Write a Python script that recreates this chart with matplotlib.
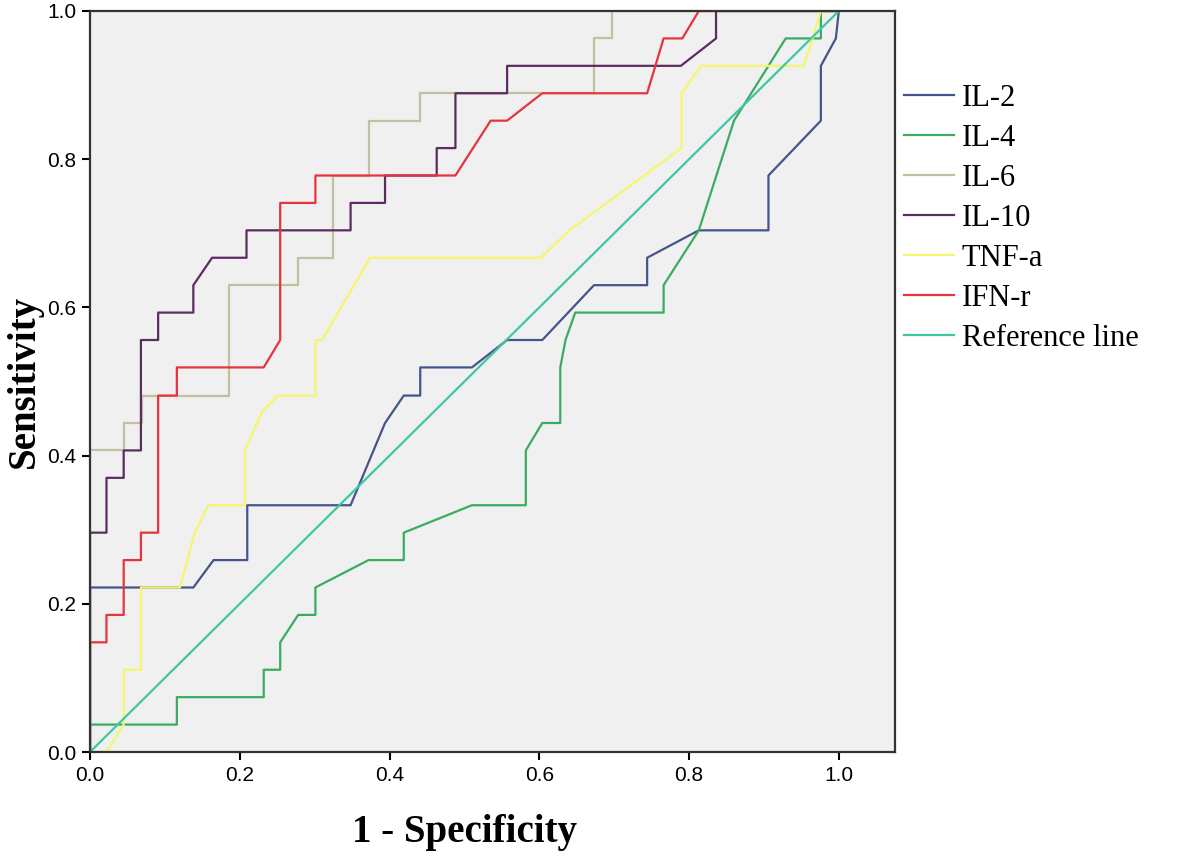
import numpy as np
import matplotlib
matplotlib.use('Agg')
import matplotlib.pyplot as plt

# ROC curves (1 - specificity, sensitivity)
il2_x = [0, 0, 0.138, 0.165, 0.21, 0.21, 0.348, 0.394, 0.419, 0.441, 0.441, 0.51, 0.557, 0.604, 0.673, 0.744, 0.744, 0.813, 0.906, 0.906, 0.976, 0.976, 0.996, 1.0]
il2_y = [0, 0.222, 0.222, 0.259, 0.259, 0.333, 0.333, 0.444, 0.481, 0.481, 0.519, 0.519, 0.556, 0.556, 0.63, 0.63, 0.667, 0.704, 0.704, 0.778, 0.852, 0.926, 0.963, 1.0]

il4_x = [0, 0, 0.116, 0.116, 0.232, 0.232, 0.254, 0.254, 0.278, 0.301, 0.301, 0.372, 0.419, 0.419, 0.51, 0.582, 0.582, 0.604, 0.628, 0.628, 0.635, 0.648, 0.766, 0.766, 0.813, 0.86, 0.929, 0.976, 0.976, 1.0]
il4_y = [0, 0.037, 0.037, 0.074, 0.074, 0.111, 0.111, 0.148, 0.185, 0.185, 0.222, 0.259, 0.259, 0.296, 0.333, 0.333, 0.407, 0.444, 0.444, 0.519, 0.556, 0.593, 0.593, 0.63, 0.704, 0.852, 0.963, 0.963, 1.0, 1.0]

il6_x = [0, 0, 0.045, 0.045, 0.07, 0.07, 0.186, 0.186, 0.278, 0.278, 0.325, 0.325, 0.372, 0.372, 0.441, 0.441, 0.673, 0.673, 0.697, 0.697, 1.0]
il6_y = [0, 0.407, 0.407, 0.444, 0.444, 0.481, 0.481, 0.63, 0.63, 0.667, 0.667, 0.778, 0.778, 0.852, 0.852, 0.889, 0.889, 0.963, 0.963, 1.0, 1.0]

il10_x = [0, 0, 0.022, 0.022, 0.045, 0.045, 0.068, 0.068, 0.091, 0.091, 0.138, 0.138, 0.163, 0.209, 0.209, 0.348, 0.348, 0.394, 0.394, 0.463, 0.463, 0.488, 0.488, 0.557, 0.557, 0.789, 0.836, 0.836, 1.0]
il10_y = [0, 0.296, 0.296, 0.37, 0.37, 0.407, 0.407, 0.556, 0.556, 0.593, 0.593, 0.63, 0.667, 0.667, 0.704, 0.704, 0.741, 0.741, 0.778, 0.778, 0.815, 0.815, 0.889, 0.889, 0.926, 0.926, 0.963, 1.0, 1.0]

tnf_x = [0, 0.022, 0.045, 0.045, 0.068, 0.068, 0.12, 0.14, 0.158, 0.207, 0.207, 0.23, 0.251, 0.301, 0.301, 0.31, 0.374, 0.602, 0.64, 0.79, 0.79, 0.816, 0.953, 0.965, 0.976, 1.0]
tnf_y = [0, 0, 0.037, 0.111, 0.111, 0.222, 0.222, 0.296, 0.333, 0.333, 0.407, 0.46, 0.481, 0.481, 0.556, 0.556, 0.667, 0.667, 0.704, 0.815, 0.889, 0.926, 0.926, 0.963, 1.0, 1.0]

ifn_x = [0, 0, 0.022, 0.022, 0.045, 0.045, 0.068, 0.068, 0.091, 0.091, 0.116, 0.116, 0.232, 0.254, 0.254, 0.301, 0.301, 0.488, 0.535, 0.557, 0.604, 0.744, 0.766, 0.791, 0.813, 1.0]
ifn_y = [0, 0.148, 0.148, 0.185, 0.185, 0.259, 0.259, 0.296, 0.296, 0.481, 0.481, 0.519, 0.519, 0.556, 0.741, 0.741, 0.778, 0.778, 0.852, 0.852, 0.889, 0.889, 0.963, 0.963, 1.0, 1.0]

ref_x = [0, 1]
ref_y = [0, 1]

labels = ['IL-2', 'IL-4', 'IL-6', 'IL-10', 'TNF-a', 'IFN-r', 'Reference line']
colors = ['#45548c', '#3aac62', '#c3c0a2', '#5a2c60', '#f6f66c', '#e6333d', '#3fc6a4']
curves = [(il2_x, il2_y), (il4_x, il4_y), (il6_x, il6_y), (il10_x, il10_y),
          (tnf_x, tnf_y), (ifn_x, ifn_y), (ref_x, ref_y)]

fig = plt.figure(figsize=(11.81, 8.58), dpi=100)
# axes box: top edge a few px lower than the reference so the "1.0" label fits
ax = fig.add_axes([90/1181, 106/858, 805/1181, 741/858])
ax.set_facecolor('#f0f0f0')

for (x, y), lab, col in zip(curves, labels, colors):
    ax.plot(x, y, color=col, lw=1.6, label=lab)

ticks = np.arange(0, 1.01, 0.2)
ax.set_xlim(0, 1.075)
ax.set_ylim(0, 1)
ax.set_xticks(ticks)
ax.set_yticks(ticks)
ax.set_xticklabels([f'{v:.1f}' for v in ticks])
ax.set_yticklabels([f'{v:.1f}' for v in ticks])
ax.tick_params(direction='out', length=6, width=1.5, labelsize=15, pad=4)
for lab in ax.get_xticklabels() + ax.get_yticklabels():
    lab.set_family('Liberation Sans')
for sp in ax.spines.values():
    sp.set_linewidth(1.6)
    sp.set_color('#333333')

ax.set_xlabel('1 - Specificity', family='Liberation Serif', weight='bold', fontsize=28)
ax.set_ylabel('Sensitivity', family='Liberation Serif', weight='bold', fontsize=28)
ax.xaxis.set_label_coords(0.465, -0.083)
ax.yaxis.set_label_coords(-0.058, 0.5)

fig.legend(loc='upper left', bbox_to_anchor=(904/1181, 1 - 84/858), frameon=False,
           prop={'family': 'Liberation Serif', 'size': 22}, handlelength=1.64,
           handletextpad=0.25, labelspacing=0.36, borderaxespad=0, borderpad=0)

fig.savefig('out.png', dpi=100)
